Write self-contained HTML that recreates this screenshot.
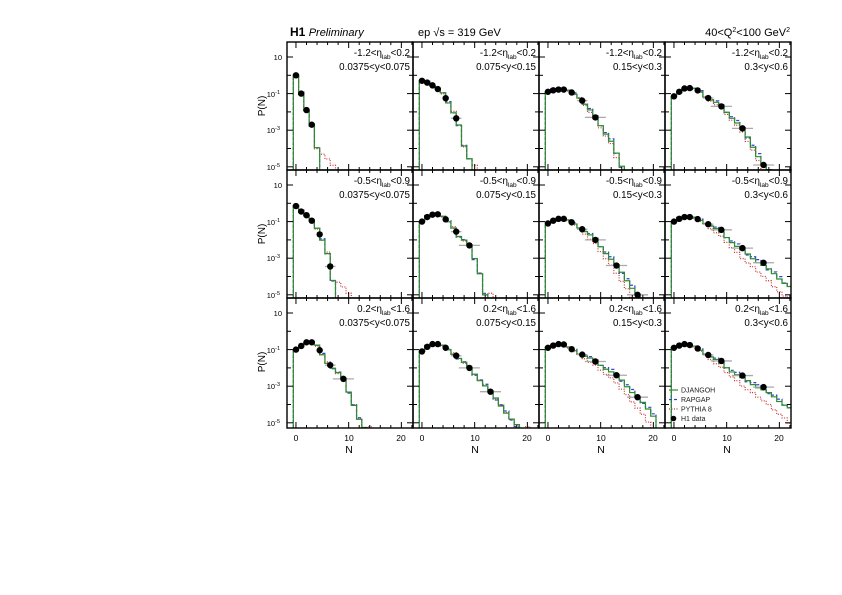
<!DOCTYPE html>
<html><head><meta charset="utf-8"><style>
html,body{margin:0;padding:0;background:#fff;}
svg{display:block;font-family:"Liberation Sans",sans-serif;}
</style></head><body>
<svg id="s" width="842" height="595" viewBox="0 0 842 595" xmlns="http://www.w3.org/2000/svg">
<g id="plots"></g>
<g font-size="11" fill="#000">
<text x="290" y="36" font-weight="bold" font-size="12">H1 <tspan font-weight="normal" font-style="italic" font-size="11">Preliminary</tspan></text>
<text x="418" y="36" font-size="11">ep <tspan>√s</tspan> = 319 GeV</text>
<text x="790" y="36" text-anchor="end" font-size="11">40&lt;Q<tspan font-size="7" dy="-4">2</tspan><tspan dy="4">&lt;100 GeV</tspan><tspan font-size="7" dy="-4">2</tspan></text>
</g>
<g font-size="10">
<text transform="translate(265,106) rotate(-90)" text-anchor="middle">P(N)</text>
<text transform="translate(265,234) rotate(-90)" text-anchor="middle">P(N)</text>
<text transform="translate(265,362) rotate(-90)" text-anchor="middle">P(N)</text>
</g>
<g font-size="7.5" text-anchor="end">
<text x="282" y="60">10</text><text x="280" y="97">10<tspan font-size="5.5" dy="-3">-1</tspan></text><text x="280" y="133">10<tspan font-size="5.5" dy="-3">-3</tspan></text><text x="280" y="170">10<tspan font-size="5.5" dy="-3">-5</tspan></text>
<text x="282" y="188">10</text><text x="280" y="225">10<tspan font-size="5.5" dy="-3">-1</tspan></text><text x="280" y="261">10<tspan font-size="5.5" dy="-3">-3</tspan></text><text x="280" y="298">10<tspan font-size="5.5" dy="-3">-5</tspan></text>
<text x="282" y="316">10</text><text x="280" y="353">10<tspan font-size="5.5" dy="-3">-1</tspan></text><text x="280" y="389">10<tspan font-size="5.5" dy="-3">-3</tspan></text><text x="280" y="426">10<tspan font-size="5.5" dy="-3">-5</tspan></text>
</g>
<g font-size="8.5" text-anchor="middle">
<text x="296" y="441">0</text><text x="349" y="441">10</text><text x="401" y="441">20</text>
<text x="422" y="441">0</text><text x="475" y="441">10</text><text x="527" y="441">20</text>
<text x="548" y="441">0</text><text x="601" y="441">10</text><text x="653" y="441">20</text>
<text x="674" y="441">0</text><text x="727" y="441">10</text><text x="779" y="441">20</text>
</g>
<g font-size="10.5" text-anchor="middle">
<text x="349" y="453">N</text><text x="475" y="453">N</text><text x="601" y="453">N</text><text x="727" y="453">N</text>
</g>
<g font-size="9.8" text-anchor="end">
<text x="410" y="56">-1.2&lt;η<tspan font-size="6.5" dy="3">lab</tspan><tspan dy="-3">&lt;0.2</tspan></text><text x="410" y="70">0.0375&lt;y&lt;0.075</text>
<text x="536" y="56">-1.2&lt;η<tspan font-size="6.5" dy="3">lab</tspan><tspan dy="-3">&lt;0.2</tspan></text><text x="536" y="70">0.075&lt;y&lt;0.15</text>
<text x="662" y="56">-1.2&lt;η<tspan font-size="6.5" dy="3">lab</tspan><tspan dy="-3">&lt;0.2</tspan></text><text x="662" y="70">0.15&lt;y&lt;0.3</text>
<text x="788" y="56">-1.2&lt;η<tspan font-size="6.5" dy="3">lab</tspan><tspan dy="-3">&lt;0.2</tspan></text><text x="788" y="70">0.3&lt;y&lt;0.6</text>
<text x="410" y="184">-0.5&lt;η<tspan font-size="6.5" dy="3">lab</tspan><tspan dy="-3">&lt;0.9</tspan></text><text x="410" y="198">0.0375&lt;y&lt;0.075</text>
<text x="536" y="184">-0.5&lt;η<tspan font-size="6.5" dy="3">lab</tspan><tspan dy="-3">&lt;0.9</tspan></text><text x="536" y="198">0.075&lt;y&lt;0.15</text>
<text x="662" y="184">-0.5&lt;η<tspan font-size="6.5" dy="3">lab</tspan><tspan dy="-3">&lt;0.9</tspan></text><text x="662" y="198">0.15&lt;y&lt;0.3</text>
<text x="788" y="184">-0.5&lt;η<tspan font-size="6.5" dy="3">lab</tspan><tspan dy="-3">&lt;0.9</tspan></text><text x="788" y="198">0.3&lt;y&lt;0.6</text>
<text x="410" y="312">0.2&lt;η<tspan font-size="6.5" dy="3">lab</tspan><tspan dy="-3">&lt;1.6</tspan></text><text x="410" y="326">0.0375&lt;y&lt;0.075</text>
<text x="536" y="312">0.2&lt;η<tspan font-size="6.5" dy="3">lab</tspan><tspan dy="-3">&lt;1.6</tspan></text><text x="536" y="326">0.075&lt;y&lt;0.15</text>
<text x="662" y="312">0.2&lt;η<tspan font-size="6.5" dy="3">lab</tspan><tspan dy="-3">&lt;1.6</tspan></text><text x="662" y="326">0.15&lt;y&lt;0.3</text>
<text x="788" y="312">0.2&lt;η<tspan font-size="6.5" dy="3">lab</tspan><tspan dy="-3">&lt;1.6</tspan></text><text x="788" y="326">0.3&lt;y&lt;0.6</text>
</g>
<g font-size="7" fill="#222">
<line x1="669" y1="390" x2="678" y2="390" stroke="#2e8b2e" stroke-width="1.2"/>
<text x="681" y="392.5">DJANGOH</text>
<line x1="669" y1="399.5" x2="678" y2="399.5" stroke="#3344cc" stroke-width="1.2" stroke-dasharray="3,2"/>
<text x="681" y="402">RAPGAP</text>
<line x1="669" y1="409" x2="678" y2="409" stroke="#cc3333" stroke-width="1.2" stroke-dasharray="1,1.5"/>
<text x="681" y="411.5">PYTHIA 8</text>
<circle cx="673.5" cy="418.5" r="2.8" fill="#000"/>
<text x="681" y="421">H1 data</text>
</g>
</svg>
<script>
(function(){
var NS="http://www.w3.org/2000/svg";
var g=document.getElementById('plots');
var lefts=[287,413,539,665],W=126,tops=[42,170,298],Hs=[128,128,130];
var S=[
[[[0,0],[1,-1],[2,-1.9],[3,-2.7],[4,-4.0],[5,-9]],
 [[0,-0.3],[1,-0.4],[2,-0.55],[3,-0.75],[4,-1.0],[5,-1.5],[6,-2.0],[7,-2.7],[8,-3.9],[9,-4.6],[10,-9]],
 [[0,-0.9],[1,-0.82],[2,-0.78],[3,-0.78],[4,-0.85],[6,-1.2],[9,-2.3],[12,-3.6],[14,-5],[15,-9]],
 [[0,-1.15],[1,-0.9],[2,-0.72],[3,-0.7],[4,-0.75],[5,-0.9],[6,-1.15],[9,-1.7],[13,-2.9],[17,-4.9],[19,-5.5],[20,-9]]],
[[[0,-0.15],[1,-0.45],[2,-0.65],[3,-0.95],[4,-1.4],[5,-2.0],[6,-2.7],[7,-4.2],[8,-9]],
 [[0,-1.0],[1,-0.75],[2,-0.62],[3,-0.6],[4,-0.75],[5,-1.0],[6,-1.3],[7,-1.8],[9,-2.3],[10,-3.0],[11,-3.8],[12,-5],[13,-9]],
 [[0,-1.1],[1,-0.95],[2,-0.85],[3,-0.85],[4,-0.95],[6,-1.3],[9,-2.0],[13,-3.4],[17,-5.0],[19,-5.6],[20,-9]],
 [[0,-1.0],[1,-0.85],[2,-0.75],[3,-0.75],[4,-0.8],[6,-1.05],[9,-1.6],[13,-2.6],[17,-3.4],[23,-4.8]]],
[[[0,-1.0],[1,-0.8],[2,-0.6],[3,-0.6],[4,-0.8],[5,-1.27],[6,-1.7],[7,-2.0],[8,-2.3],[9,-2.6],[10,-3.3],[11,-4],[12,-4.8],[13,-5.3],[14,-9]],
 [[0,-1.1],[1,-0.85],[2,-0.7],[3,-0.7],[4,-0.8],[6,-1.2],[9,-2.0],[13,-3.3],[17,-4.8],[19,-5.5],[20,-9]],
 [[0,-0.9],[1,-0.78],[2,-0.7],[3,-0.72],[4,-0.9],[6,-1.2],[9,-1.65],[13,-2.4],[17,-3.6],[20,-4.6],[21,-9]],
 [[0,-0.9],[1,-0.78],[2,-0.7],[3,-0.75],[4,-0.85],[6,-1.2],[9,-1.77],[13,-2.57],[17,-3.2],[23,-4.4]]]];
var MAXN=[[3,6.5,9,17],[6.5,9,17,17],[9,13,17,17]];
function interp(a,n){if(n<a[0][0])return -9;for(var i=0;i<a.length-1;i++){if(n>=a[i][0]&&n<=a[i+1][0]){var t=(n-a[i][0])/(a[i+1][0]-a[i][0]);return a[i][1]+t*(a[i+1][1]-a[i][1]);}}return a[a.length-1][0]>=n?a[a.length-1][1]:-9;}
function el(n,at,p){var e=document.createElementNS(NS,n);for(var k in at)e.setAttribute(k,at[k]);(p||g).appendChild(e);return e;}
var cid=0;
for(var r=0;r<3;r++)for(var c=0;c<4;c++){
 var L=lefts[c],T=tops[r],H=Hs[r],B=T+H,a=S[r][c];
 var px=function(n){return L+(n+1.7)*5.27;};
 var py=function(l){return T+15+(1-l)*18.3;};
 var cp=el('clipPath',{id:'c'+(cid)});el('rect',{x:L,y:T,width:W,height:H},cp);
 var gg=el('g',{'clip-path':'url(#c'+cid+')'});cid++;
 var lastN=a[a.length-1][0];
 var bumpLvl=(r==2)?-5.2:(c==0?-4.3:-4.9);
 var curves=[
  {col:'#cc3333',da:'1,1.5',f:function(n,b){var v=b;if(c>=2&&n>4)v-= (r==0?0.02:0.045)*(n-4);if(c<2&&b<-8){if(n>=lastN&&n<lastN+3)v=bumpLvl-0.3*(n-lastN);}return v+0.03*Math.cos(n*2.1);}},
  {col:'#3344cc',da:'3,2',f:function(n,b){return b+0.08*Math.sin(n*1.7)+(c>=2&&n>6?0.05:0);}},
  {col:'#2e8b2e',da:'',f:function(n,b){return b-0.05*Math.sin(n*1.3);}}];
 curves.forEach(function(cv){
  var d='M'+px(-0.5)+','+B;
  for(var n=0;n<=24;n++){var b=interp(a,n);var v=cv.f(n,b);var y=v<-8?B+2:Math.min(py(v),B+2);
   d+=' L'+px(n-0.5)+','+y+' L'+px(n+0.5)+','+y;}
  el('path',{d:d,fill:'none',stroke:cv.col,'stroke-width':1.2,'stroke-dasharray':cv.da},gg);
 });
 var pts=[0,1,2,3,4.5,6.5,9,13,17];
 pts.forEach(function(n){if(n>MAXN[r][c])return;var v=interp(a,n);if(v<-5.4)return;
  var x=px(n),y=py(v+(n>=9&&c==3&&r>0?0.15:0));
  var er=n>=9?2:(n>=6?1:0);
  if(er)el('line',{x1:px(n-er),x2:px(n+er),y1:y,y2:y,stroke:'#aaa','stroke-width':1.3},gg);
  el('circle',{cx:x,cy:y,r:3.2,fill:'#000'},gg);
 });
 el('rect',{x:L,y:T,width:W,height:H,fill:'none',stroke:'#000','stroke-width':1.4});
 for(var e=1;e>=-5;e--){var y=py(e),len=(e%2!=0)?6:4;
  el('line',{x1:L,x2:L+len,y1:y,y2:y,stroke:'#000','stroke-width':1});
  el('line',{x1:L+W,x2:L+W-len,y1:y,y2:y,stroke:'#000','stroke-width':1});}
 for(var n=0;n<=22;n+=2){var x=px(n),len=(n%10==0)?6:3;
  el('line',{x1:x,x2:x,y1:B,y2:B-len,stroke:'#000','stroke-width':1});
  el('line',{x1:x,x2:x,y1:T,y2:T+len,stroke:'#000','stroke-width':1});}
}
})();
</script>
</body></html>
